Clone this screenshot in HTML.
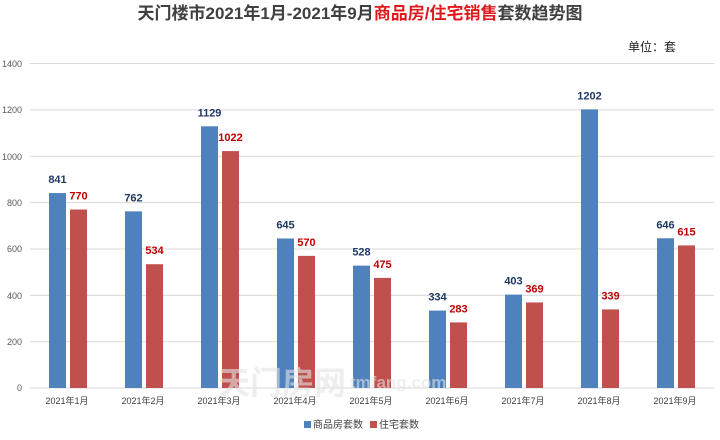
<!DOCTYPE html>
<html><head><meta charset="utf-8"><style>
body{margin:0;background:#fff;width:720px;height:435px;overflow:hidden}
text{font-family:"Liberation Sans","Noto Sans CJK SC",sans-serif}
</style></head><body>
<svg width="720" height="435" xmlns="http://www.w3.org/2000/svg">
<text x="360" y="19" text-anchor="middle" font-size="17" font-weight="bold" fill="#404040">天门楼市2021年1月-2021年9月<tspan fill="#e0191e">商品房/住宅销售</tspan>套数趋势图</text>
<text x="628" y="51" font-size="12" fill="#222">单位：套</text>
<g stroke="#d9d9d9" stroke-width="1">
<line x1="30" x2="714" y1="63.5" y2="63.5"/><line x1="30" x2="714" y1="109.9" y2="109.9"/>
<line x1="30" x2="714" y1="156.2" y2="156.2"/><line x1="30" x2="714" y1="202.6" y2="202.6"/>
<line x1="30" x2="714" y1="249" y2="249"/><line x1="30" x2="714" y1="295.4" y2="295.4"/>
<line x1="30" x2="714" y1="341.7" y2="341.7"/><line x1="30" x2="714" y1="388" y2="388"/>
</g>
<g font-size="9" fill="#595959" text-anchor="end">
<text x="22" y="67">1400</text><text x="22" y="113">1200</text><text x="22" y="160">1000</text>
<text x="22" y="206">800</text><text x="22" y="252">600</text><text x="22" y="299">400</text>
<text x="22" y="345">200</text><text x="22" y="391">0</text>
</g>
<g id="bars"></g>
<rect x="304" y="421" width="7" height="7" fill="#4f81bd"/>
<text x="313" y="428" font-size="10" fill="#404040">商品房套数</text>
<rect x="370" y="421" width="7" height="7" fill="#c0504d"/>
<text x="379" y="428" font-size="10" fill="#404040">住宅套数</text>
<text x="218" y="394" font-size="32" fill="#e4e4e4" opacity="0.6" font-weight="bold">天门房网</text>
<text x="350" y="388" font-size="17" fill="#e4e4e4" opacity="0.6" font-weight="bold">tmfang.com</text>
</svg>
<script>
var b=[841,762,1129,645,528,334,403,1202,646],r=[770,534,1022,570,475,283,369,339,615];
var g=document.getElementById('bars'),s='';
for(var i=0;i<9;i++){var x0=30+i*76,hb=b[i]*0.2318,hr=r[i]*0.2318;
s+='<rect x="'+(x0+19)+'" y="'+(388-hb)+'" width="17" height="'+hb+'" fill="#4f81bd"/>';
s+='<rect x="'+(x0+40)+'" y="'+(388-hr)+'" width="17" height="'+hr+'" fill="#c0504d"/>';
s+='<text x="'+(x0+27.5)+'" y="'+(388-hb-10)+'" font-size="11" font-weight="bold" fill="#1f3864" text-anchor="middle">'+b[i]+'</text>';
s+='<text x="'+(x0+48.5)+'" y="'+(388-hr-10)+'" font-size="11" font-weight="bold" fill="#c00000" text-anchor="middle">'+r[i]+'</text>';
s+='<text x="'+(x0+37)+'" y="404" font-size="9" fill="#404040" text-anchor="middle">2021年'+(i+1)+'月</text>';}
g.innerHTML=s;
</script>
</body></html>
